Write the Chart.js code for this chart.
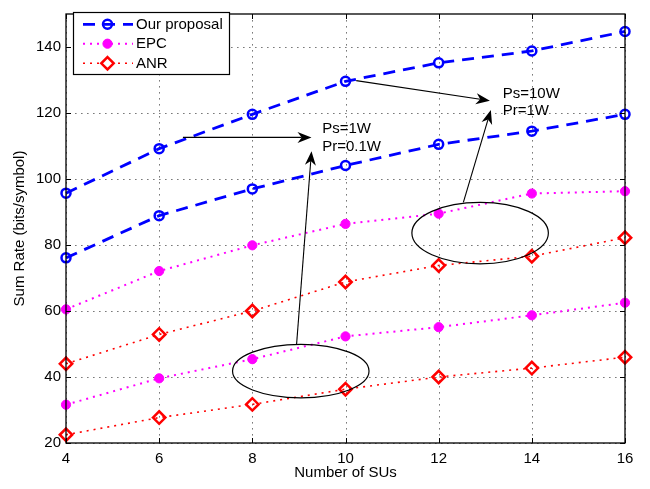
<!DOCTYPE html>
<html>
<head>
<meta charset="utf-8">
<script src="https://cdn.jsdelivr.net/npm/chart.js@4"></script>
<style>
  html, body { margin: 0; padding: 0; background: #fff; }
  #wrap { width: 650px; height: 489px; }
</style>
</head>
<body>
<div id="wrap"><canvas id="c" width="650" height="489"></canvas></div>
<script>
// ---- data ----
const xValues = [4, 6, 8, 10, 12, 14, 16];
const oursHigh = [95.7, 109.2, 119.6, 129.6, 135.2, 138.8, 144.7];
const oursLow  = [76.1, 88.9, 97.0, 104.1, 110.5, 114.5, 119.6];
const epcHigh  = [60.5, 72.1, 79.9, 86.4, 89.5, 95.6, 96.3];
const epcLow   = [31.6, 39.6, 45.4, 52.3, 55.1, 58.7, 62.5];
const anrHigh  = [44.0, 52.9, 60.0, 68.8, 73.8, 76.6, 82.2];
const anrLow   = [22.5, 27.7, 31.7, 36.3, 40.0, 42.7, 46.0];
const xTicks = [4, 6, 8, 10, 12, 14, 16];
const yTicks = [20, 40, 60, 80, 100, 120, 140];
const legendLabels = ['Our proposal', 'EPC', 'ANR'];
const annoTexts = ['Ps=1W', 'Pr=0.1W', 'Ps=10W', 'Pr=1W'];

// annotation geometry in data units
const ellipses = [
  { x: 9.04, y: 41.8, rx: 1.465, ry: 8.1 },
  { x: 12.89, y: 83.6, rx: 1.465, ry: 9.3 }
];
const arrows = [
  { x1: 6.51, y1: 112.6, x2: 9.27, y2: 112.6 },
  { x1: 10.23, y1: 129.8, x2: 13.1, y2: 123.7 },
  { x1: 8.95, y1: 49.9, x2: 9.27, y2: 108.4 },
  { x1: 12.53, y1: 92.9, x2: 13.12, y2: 120.9 }
];
const textPos = [
  { x: 9.5, y: 115.2 }, { x: 9.5, y: 109.6 },
  { x: 13.375, y: 125.8 }, { x: 13.375, y: 120.8 }
];

const FONT = '"Liberation Sans", Arial, Helvetica, sans-serif';
const BLUE = '#0000ff', MAG = '#ff00ff', RED = '#ff0000';

const pts = arr => xValues.map((x, i) => ({ x: x, y: arr[i] }));

const blueStyle = {
  borderColor: BLUE, borderWidth: 2.8, borderDash: [12, 8],
  pointStyle: 'circle', pointRadius: 4.5, pointBorderWidth: 2.5,
  pointBorderColor: BLUE, pointBackgroundColor: 'rgba(0,0,0,0)',
  fill: false, tension: 0, clip: false
};
const magStyle = {
  borderColor: MAG, borderWidth: 2, borderDash: [2, 5],
  pointStyle: 'circle', pointRadius: 4.6, pointBorderWidth: 1,
  pointBorderColor: MAG, pointBackgroundColor: MAG,
  fill: false, tension: 0, clip: false
};
const redStyle = {
  borderColor: RED, borderWidth: 1.6, borderDash: [2, 5],
  pointStyle: 'rectRot', pointRadius: 6.2, pointBorderWidth: 2.5,
  pointBorderColor: RED, pointBackgroundColor: 'rgba(0,0,0,0)',
  fill: false, tension: 0, clip: false
};

function drawArrow(ctx, x1, y1, x2, y2) {
  const a = Math.atan2(y2 - y1, x2 - x1);
  const L = 14, W = 5.5;
  const c = Math.cos(a), s = Math.sin(a);
  const nx = -s, ny = c;
  const ix = x2 - 0.7 * L * c, iy = y2 - 0.7 * L * s;
  ctx.beginPath(); ctx.moveTo(x1, y1); ctx.lineTo(ix, iy); ctx.stroke();
  const bx = x2 - L * c, by = y2 - L * s;
  ctx.beginPath();
  ctx.moveTo(x2, y2);
  ctx.lineTo(bx + nx * W, by + ny * W);
  ctx.lineTo(ix, iy);
  ctx.lineTo(bx - nx * W, by - ny * W);
  ctx.closePath();
  ctx.fill();
}

const gridDots = {
  id: 'gridDots',
  beforeDatasetsDraw(chart) {
    const { ctx, chartArea: ca, scales: { x, y } } = chart;
    ctx.save();
    ctx.fillStyle = '#7a7a7a';
    const step = 6;
    xTicks.forEach(v => {
      const px = Math.round(x.getPixelForValue(v));
      for (let py = Math.round(ca.bottom) - 3; py > ca.top; py -= step) ctx.fillRect(px, py, 1, 1.6);
    });
    yTicks.forEach(v => {
      const py = Math.round(y.getPixelForValue(v));
      for (let px = Math.round(ca.left) + 3; px < ca.right; px += step) ctx.fillRect(px, py, 1.6, 1);
    });
    ctx.restore();
  }
};

const decor = {
  id: 'decor',
  afterDatasetsDraw(chart) {
    const { ctx, chartArea: ca, scales: { x, y } } = chart;
    ctx.save();
    ctx.setLineDash([]);
    // box
    ctx.strokeStyle = '#000'; ctx.lineWidth = 1.3;
    ctx.strokeRect(ca.left, ca.top, ca.right - ca.left, ca.bottom - ca.top);
    // inward ticks
    ctx.lineWidth = 1;
    const T = 5;
    xTicks.forEach(v => {
      const px = Math.round(x.getPixelForValue(v)) + 0.5;
      ctx.beginPath();
      ctx.moveTo(px, ca.bottom); ctx.lineTo(px, ca.bottom - T);
      ctx.moveTo(px, ca.top); ctx.lineTo(px, ca.top + T);
      ctx.stroke();
    });
    yTicks.forEach(v => {
      const py = Math.round(y.getPixelForValue(v)) + 0.5;
      ctx.beginPath();
      ctx.moveTo(ca.left, py); ctx.lineTo(ca.left + T, py);
      ctx.moveTo(ca.right, py); ctx.lineTo(ca.right - T, py);
      ctx.stroke();
    });
    // ellipses
    ctx.lineWidth = 1.2;
    ellipses.forEach(e => {
      const cx = x.getPixelForValue(e.x), cy = y.getPixelForValue(e.y);
      const rx = x.getPixelForValue(e.x + e.rx) - cx;
      const ry = cy - y.getPixelForValue(e.y + e.ry);
      ctx.beginPath(); ctx.ellipse(cx, cy, rx, ry, 0, 0, Math.PI * 2); ctx.stroke();
    });
    // arrows
    ctx.lineWidth = 1.1; ctx.fillStyle = '#000';
    arrows.forEach(a => drawArrow(ctx,
      x.getPixelForValue(a.x1), y.getPixelForValue(a.y1),
      x.getPixelForValue(a.x2), y.getPixelForValue(a.y2)));
    // texts
    ctx.font = '15px ' + FONT; ctx.textAlign = 'left'; ctx.textBaseline = 'middle';
    ctx.fillStyle = '#000';
    textPos.forEach((p, i) => ctx.fillText(annoTexts[i], x.getPixelForValue(p.x), y.getPixelForValue(p.y)));

    // legend
    const lx = 73.5, ly = 12.5, lw = 156, lh = 62;
    ctx.fillStyle = '#fff'; ctx.fillRect(lx, ly, lw, lh);
    ctx.strokeStyle = '#000'; ctx.lineWidth = 1.2; ctx.strokeRect(lx, ly, lw, lh);
    const rows = [24.3, 43.7, 63.3];
    const styles = [blueStyle, magStyle, redStyle];
    rows.forEach((ry, i) => {
      const st = styles[i];
      ctx.save();
      ctx.strokeStyle = st.borderColor; ctx.lineWidth = st.borderWidth;
      ctx.setLineDash(st.borderDash);
      ctx.beginPath(); ctx.moveTo(83, ry); ctx.lineTo(133, ry); ctx.stroke();
      ctx.restore();
      ctx.save();
      ctx.setLineDash([]);
      ctx.lineWidth = st.pointBorderWidth; ctx.strokeStyle = st.pointBorderColor;
      ctx.fillStyle = st.pointBackgroundColor;
      const mx = 107.5, r = st.pointRadius;
      ctx.beginPath();
      if (st.pointStyle === 'rectRot') {
        ctx.moveTo(mx, ry - r); ctx.lineTo(mx + r, ry); ctx.lineTo(mx, ry + r); ctx.lineTo(mx - r, ry); ctx.closePath();
        ctx.fillStyle = '#fff'; ctx.fill();
      } else {
        ctx.arc(mx, ry, r, 0, Math.PI * 2);
        ctx.fill();
      }
      ctx.stroke();
      ctx.restore();
      ctx.fillStyle = '#000'; ctx.font = '15px ' + FONT;
      ctx.textAlign = 'left'; ctx.textBaseline = 'middle';
      ctx.fillText(legendLabels[i], 136, ry + 0.5);
    });
    ctx.restore();
  }
};

new Chart(document.getElementById('c'), {
  type: 'line',
  data: {
    datasets: [
      Object.assign({ label: 'Our proposal (Ps=10W)', data: pts(oursHigh) }, blueStyle),
      Object.assign({ label: 'Our proposal (Ps=1W)', data: pts(oursLow) }, blueStyle),
      Object.assign({ label: 'EPC (Ps=10W)', data: pts(epcHigh) }, magStyle),
      Object.assign({ label: 'EPC (Ps=1W)', data: pts(epcLow) }, magStyle),
      Object.assign({ label: 'ANR (Ps=10W)', data: pts(anrHigh) }, redStyle),
      Object.assign({ label: 'ANR (Ps=1W)', data: pts(anrLow) }, redStyle)
    ]
  },
  options: {
    responsive: false,
    animation: false,
    devicePixelRatio: 1,
    layout: { padding: { top: 5, right: 25, left: 0, bottom: 0 } },
    plugins: { legend: { display: false }, tooltip: { enabled: false } },
    scales: {
      x: {
        type: 'linear', min: 4, max: 16,
        afterBuildTicks: s => { s.ticks = xTicks.map(v => ({ value: v })); },
        afterFit: s => { s.height = 46; },
        grid: { display: false, drawTicks: false },
        border: { display: false },
        ticks: { padding: 7, color: '#000', font: { family: FONT, size: 15 }, maxRotation: 0 },
        title: { display: true, text: 'Number of SUs', color: '#000',
                 font: { family: FONT, size: 15 }, padding: { top: 0, bottom: 7 } }
      },
      y: {
        type: 'linear', min: 20, max: 150,
        afterBuildTicks: s => { s.ticks = yTicks.map(v => ({ value: v })); },
        afterFit: s => { s.width = 66; },
        grid: { display: false, drawTicks: false },
        border: { display: false },
        ticks: { padding: 5, color: '#000', font: { family: FONT, size: 15 } },
        title: { display: true, text: 'Sum Rate (bits/symbol)', color: '#000',
                 font: { family: FONT, size: 15 }, padding: { top: 11, bottom: 0 } }
      }
    }
  },
  plugins: [gridDots, decor]
});
</script>
</body>
</html>
